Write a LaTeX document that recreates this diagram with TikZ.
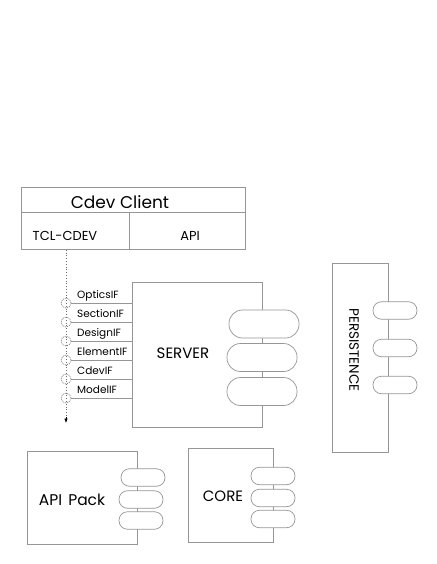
\documentclass[tikz,border=0pt]{standalone}
\usepackage{fontspec}
\setmainfont{Poppins}
\usetikzlibrary{arrows.meta}
\definecolor{ln}{RGB}{150,150,150}
\definecolor{dotc}{RGB}{110,110,110}
\definecolor{circc}{RGB}{120,120,120}
\begin{document}
\begin{tikzpicture}[x=1pt,y=-1pt,
  box/.style={draw=ln,line width=0.7pt,inner sep=0pt},
  pill/.style={draw=ln,fill=white,line width=0.7pt,rounded corners=#1,inner sep=0pt},
  bigpill/.style={pill=13.5pt,minimum width=70pt,minimum height=28pt},
  smallpill/.style={pill=8.5pt,minimum width=44pt,minimum height=17.5pt},
  ifc/.style={circle,draw=circc,dash pattern=on 1pt off 1pt,line width=0.7pt,minimum size=10pt,inner sep=0pt},
  iflabel/.style={anchor=base west,inner sep=0pt,font=\fontsize{10.5}{12}\selectfont},
  lbl/.style={inner sep=0pt,anchor=base}
]
\useasboundingbox (0,0) rectangle (436,564);
% Cdev client
\node[box,minimum width=224pt,minimum height=25pt,anchor=north west] (client) at (21,187) {};
\node[box,minimum width=108pt,minimum height=37pt,anchor=north west] (tcl) at (21,212) {};
\node[box,minimum width=116pt,minimum height=37pt,anchor=north west] (api) at (129,212) {};
\node[lbl,font=\fontsize{17}{20}\selectfont] (tclient) at (120,208) {Cdev Client};
\node[lbl,font=\fontsize{13}{15}\selectfont] (ttcl) at (65,240) {TCL-CDEV};
\node[lbl,font=\fontsize{13}{15}\selectfont] (tapi) at (190,240) {API};
% Server
\node[box,minimum width=130pt,minimum height=145pt,anchor=north west] (server) at (132,282) {};
\node[lbl,font=\fontsize{15}{17}\selectfont] (tserver) at (183,358) {SERVER};
\node[bigpill] (sp1) at (264,324) {};
\node[bigpill] (sp2) at (262,357.5) {};
\node[bigpill] (sp3) at (262,391.5) {};
% Interfaces
\node[ifc] (i1) at (66,303) {};
\node[ifc] (i2) at (66,322) {};
\node[ifc] (i3) at (66,341) {};
\node[ifc] (i4) at (66,360) {};
\node[ifc] (i5) at (66,379) {};
\node[ifc] (i6) at (66,398) {};
\coordinate (dend) at (66,423);
\coordinate (astart) at (66,417);
\draw[dotc,line width=0.8pt,dash pattern=on 0.8pt off 2pt] (tcl.south -| i1) -- (astart);
\draw[-{Latex[length=4.5pt,width=3.5pt]},black,line width=0.6pt] (astart) -- (dend);
\foreach \i in {1,...,6}{\draw[ln,line width=0.7pt] (i\i.east) -- (i\i.east -| server.west);}
\node[iflabel] at (77,298) {OpticsIF};
\node[iflabel] at (77,317) {SectionIF};
\node[iflabel] at (77,336) {DesignIF};
\node[iflabel] at (77,355) {ElementIF};
\node[iflabel] at (77,374) {CdevIF};
\node[iflabel] at (77,393) {ModelIF};
% Persistence
\node[box,minimum width=56pt,minimum height=189pt,anchor=north west] (pers) at (332,263) {};
\node[inner sep=0pt,rotate=-90,font=\fontsize{13.5}{15}\selectfont] (tpers) at (354,350) {PERSISTENCE};
\node[smallpill] (pp1) at (395,310.5) {};
\node[smallpill] (pp2) at (395,348) {};
\node[smallpill] (pp3) at (395,385) {};
% API Pack
\node[box,minimum width=110pt,minimum height=93pt,anchor=north west] (apipack) at (27,451) {};
\node[lbl,font=\fontsize{15.5}{17}\selectfont] (tapipack) at (72,505) {API\hspace{0.4em}Pack};
\node[smallpill] (ap1) at (143,477.5) {};
\node[smallpill] (ap2) at (141,499.5) {};
\node[smallpill] (ap3) at (141,520.5) {};
% Core
\node[box,minimum width=85pt,minimum height=94pt,anchor=north west] (core) at (188,448) {};
\node[lbl,font=\fontsize{15}{16}\selectfont] (tcore) at (223,501) {CORE};
\node[smallpill] (cp1) at (273,476) {};
\node[smallpill] (cp2) at (273,498) {};
\node[smallpill] (cp3) at (273,519) {};
\end{tikzpicture}
\end{document}
